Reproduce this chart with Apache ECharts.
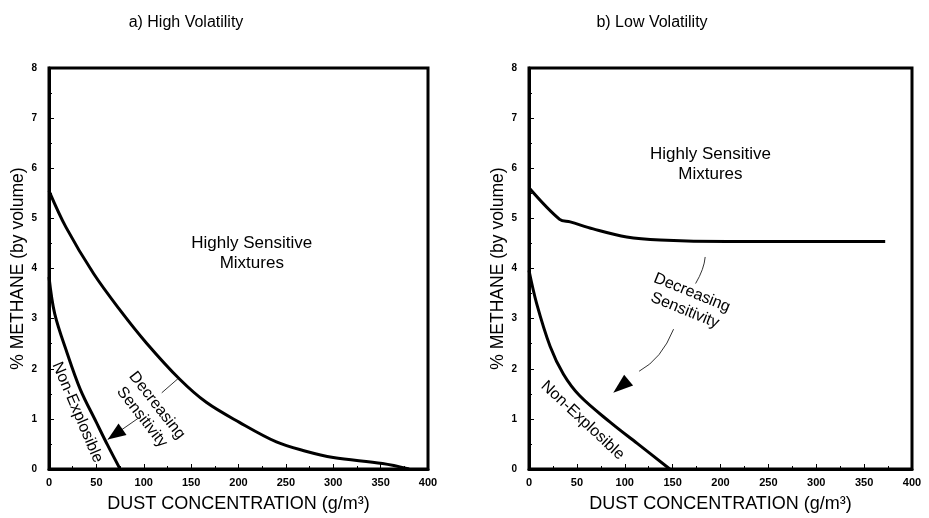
<!DOCTYPE html>
<html><head><meta charset="utf-8">
<script src="https://cdn.jsdelivr.net/npm/echarts@6/dist/echarts.min.js"></script>
<style>html,body{margin:0;padding:0;background:#fff}#c{width:929px;height:518px}</style>
</head><body><div id="c"></div>
<script>
// ---- data ----
const panelTitles = ['a) High Volatility', 'b) Low Volatility'];
const xName = 'DUST CONCENTRATION (g/m³)';
const yName = '% METHANE (by volume)';
// High volatility: upper boundary (highly sensitive) and non-explosible limit
const highSensitive = [[0,5.55],[18,4.82],[47,3.9],[75,3.17],[103,2.51],[138,1.79],[166,1.33],[201,0.93],[240,0.54],[270,0.36],[300,0.23],[352,0.11],[380,0.0]];
const highNonExplosible = [[0,3.83],[6,3.1],[19,2.32],[33,1.59],[50,0.93],[62,0.47],[75,0]];
// Low volatility
const lowSensitive = [[0,5.61],[32,4.98],[43,4.93],[67,4.79],[102,4.63],[137,4.57],[207,4.54],[372,4.54]];
const lowNonExplosible = [[0,3.96],[8,3.3],[22,2.45],[36,1.89],[53,1.46],[85,0.93],[113,0.51],[147,0]];
// annotation texts
const labelHighly = 'Highly Sensitive\nMixtures';
const labelDecr = 'Decreasing\nSensitivity';
const labelNonExp = 'Non-Explosible';

const FONT = 'Liberation Sans, Arial, sans-serif';
const chart = echarts.init(document.getElementById('c'));

function xAxisDef(i){
  return {gridIndex:i, type:'value', min:0, max:400, interval:50,
    name:xName, nameLocation:'middle', nameGap:26,
    nameTextStyle:{fontFamily:FONT, fontSize:18, color:'#000'},
    axisLine:{show:true, onZero:false, lineStyle:{color:'#000', width:3}},
    axisTick:{show:true, inside:true, length:5, lineStyle:{color:'#000', width:1}},
    minorTick:{show:true, splitNumber:2, length:3, lineStyle:{color:'#000'}},
    axisLabel:{fontFamily:FONT, fontWeight:'bold', fontSize:11, color:'#000', margin:8},
    splitLine:{show:false}};
}
function yAxisDef(i){
  return {gridIndex:i, type:'value', min:0, max:8, interval:1,
    name:yName, nameLocation:'middle', nameGap:20, nameRotate:90,
    nameTextStyle:{fontFamily:FONT, fontSize:17.5, color:'#000'},
    axisLine:{show:true, onZero:false, lineStyle:{color:'#000', width:3}},
    axisTick:{show:true, inside:true, length:5, lineStyle:{color:'#000', width:1}},
    minorTick:{show:true, splitNumber:2, length:3, lineStyle:{color:'#000'}},
    axisLabel:{fontFamily:FONT, fontWeight:'bold', fontSize:10, color:'#000', margin:12},
    splitLine:{show:false}};
}
function lineSeries(i, data){
  return {type:'line', xAxisIndex:i, yAxisIndex:i, data:data, smooth:0.35,
    showSymbol:false, symbol:'none', lineStyle:{color:'#000', width:3}, silent:true};
}

chart.setOption({
  animation:false,
  backgroundColor:'#fff',
  title:[
    {text:panelTitles[0], left:181, top:10, textAlign:'center', textStyle:{fontFamily:FONT, fontSize:16, fontWeight:'normal', color:'#000'}},
    {text:panelTitles[1], left:647, top:10, textAlign:'center', textStyle:{fontFamily:FONT, fontSize:16, fontWeight:'normal', color:'#000'}}
  ],
  grid:[
    {left:49, top:68, width:379, height:406, show:true, borderColor:'#000', borderWidth:3, backgroundColor:'transparent'},
    {left:529, top:68, width:383, height:406, show:true, borderColor:'#000', borderWidth:3, backgroundColor:'transparent'}
  ],
  xAxis:[xAxisDef(0), xAxisDef(1)],
  yAxis:[yAxisDef(0), yAxisDef(1)],
  series:[
    lineSeries(0, highSensitive), lineSeries(0, highNonExplosible),
    lineSeries(1, lowSensitive), lineSeries(1, lowNonExplosible)
  ]
});

// annotations placed via data->pixel conversion
function px(g, p){ return chart.convertToPixel({gridIndex:g}, p); }
function txt(g, p, s, rotDeg, size){
  const q = px(g,p);
  return {type:'text', x:q[0], y:q[1], rotation:rotDeg*Math.PI/180, z:10,
    style:{text:s, fontFamily:FONT, fontSize:size, fill:'#000', align:'center', verticalAlign:'middle', lineHeight:size+3}};
}
function head(tip, from, len, half){
  const dx = tip[0]-from[0], dy = tip[1]-from[1], L = Math.hypot(dx,dy);
  const ux = dx/L, uy = dy/L;
  const bx = tip[0]-ux*len, by = tip[1]-uy*len;
  return {type:'polygon', z:10, shape:{points:[tip,[bx-uy*half, by+ux*half],[bx+uy*half, by-ux*half]]}, style:{fill:'#000'}};
}
const g = [];
// left panel
g.push(txt(0,[214,4.31],labelHighly,0,17));
g.push(txt(0,[30,1.13],labelNonExp,-67,16));
g.push(txt(0,[106,1.15],labelDecr,-52,16));
{ const a = px(0,[119,1.52]), b = px(0,[136,1.80]);
  g.push({type:'line', z:10, shape:{x1:a[0],y1:a[1],x2:b[0],y2:b[1]}, style:{stroke:'#000', lineWidth:0.8}}); }
{ const a = px(0,[94,1.01]), t = px(0,[62,0.59]);
  g.push({type:'line', z:10, shape:{x1:a[0],y1:a[1],x2:t[0],y2:t[1]}, style:{stroke:'#000', lineWidth:0.8}});
  g.push(head(t,a,18,7)); }
// right panel
g.push(txt(1,[189.5,6.07],labelHighly,0,17));
g.push(txt(1,[166.5,3.34],labelDecr,-22,16));
g.push(txt(1,[56,0.97],labelNonExp,-43,16));
{ const a = px(1,[184,4.23]), b = px(1,[174,3.70]);
  g.push({type:'bezierCurve', z:10, shape:{x1:a[0],y1:a[1],x2:b[0],y2:b[1],cpx1:a[0]-1,cpy1:a[1]+12}, style:{stroke:'#000', lineWidth:0.8, fill:null}}); }
{ const a = px(1,[151,2.79]), m = px(1,[115,1.95]), t = px(1,[88,1.52]);
  g.push({type:'bezierCurve', z:10, shape:{x1:a[0],y1:a[1],x2:m[0],y2:m[1],cpx1:a[0]-12,cpy1:a[1]+30}, style:{stroke:'#000', lineWidth:0.8, fill:null}});
  g.push(head(t,m,20,7)); }
chart.setOption({graphic:g});
</script></body></html>
